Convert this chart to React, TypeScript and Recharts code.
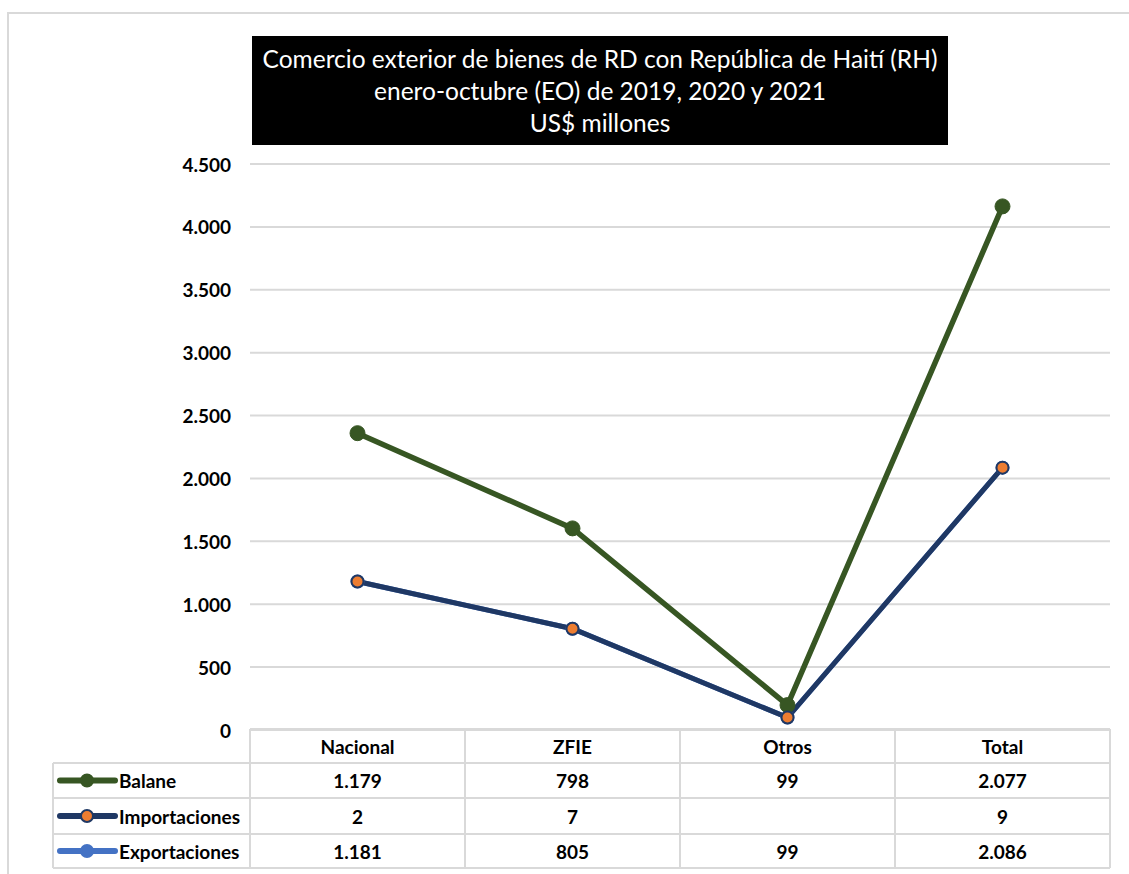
import React from 'react';
import { LineChart, Line, XAxis, YAxis, CartesianGrid } from 'recharts';

// valores del cuadro (US$ millones)
const categories = ['Nacional', 'ZFIE', 'Otros', 'Total'];
const balane = [1179, 798, 99, 2077];
const importaciones: (number | null)[] = [2, 7, null, 9];
const exportaciones = [1181, 805, 99, 2086];
const yTicks = [0, 500, 1000, 1500, 2000, 2500, 3000, 3500, 4000, 4500];

const titleLines = [
  'Comercio exterior de bienes de RD con República de Haití (RH)',
  'enero-octubre (EO) de 2019, 2020 y 2021',
  'US$ millones',
];

const GREEN = '#375623';
const NAVY = '#1F3864';
const ORANGE = '#ED7D31';
const LIGHT = '#4472C4';
const GRID = '#d9d9d9';
const FONT = 'Lato, "Open Sans", sans-serif';

const W = 1129;
const H = 874;
const M = { top: 164, right: 19, bottom: 0, left: 190 };
const Y_W = 60;
const X_H = 144;
const plotLeft = M.left + Y_W;
const plotRight = W - M.right;
const band = (plotRight - plotLeft) / categories.length;

// las líneas del gráfico están apiladas en el original
const data = categories.map((name, i) => ({
  name,
  balaneLine: balane[i] + exportaciones[i],
  importLine: balane[i] + (importaciones[i] ?? 0),
  exportLine: exportaciones[i],
}));

const rows = [
  { label: 'Balane', values: balane, line: GREEN, fill: GREEN },
  { label: 'Importaciones', values: importaciones, line: NAVY, fill: ORANGE },
  { label: 'Exportaciones', values: exportaciones, line: LIGHT, fill: LIGHT },
];

const fmt = (n: number | null) =>
  n == null ? '' : String(n).replace(/\B(?=(\d{3})+(?!\d))/g, '.');

// bordes de filas del cuadro, relativos al eje
const rowEdges = [-1, 33, 68, 104, 138];

const YTick = (props: any) => {
  const { x, y, payload } = props;
  return (
    <text x={x - 19} y={y} textAnchor="end" dominantBaseline="central"
      fontFamily={FONT} fontWeight={700} fontSize={19} fill="#000">
      {fmt(payload.value)}
    </text>
  );
};

const TableTick = (props: any) => {
  const { x, y, payload } = props;
  const idx = payload.index ?? props.index ?? 0;
  const x0 = x - band / 2;
  const x1 = x + band / 2;
  const legendLeft = 53;
  return (
    <g>
      {rowEdges.map((e, k) => (
        <line key={`h${k}`} x1={k > 0 && idx === 0 ? legendLeft : x0} x2={x1}
          y1={y + e} y2={y + e} stroke={GRID} strokeWidth={2} />
      ))}
      <line x1={x0} x2={x0} y1={y + rowEdges[0]} y2={y + rowEdges[4]} stroke={GRID} strokeWidth={2} />
      <line x1={x1} x2={x1} y1={y + rowEdges[0]} y2={y + rowEdges[4]} stroke={GRID} strokeWidth={2} />
      <text x={x} y={y + (rowEdges[0] + rowEdges[1]) / 2} textAnchor="middle" dominantBaseline="central"
        fontFamily={FONT} fontWeight={700} fontSize={19} fill="#000">
        {payload.value}
      </text>
      {rows.map((r, k) => (
        <text key={r.label} x={x} y={y + (rowEdges[k + 1] + rowEdges[k + 2]) / 2}
          textAnchor="middle" dominantBaseline="central"
          fontFamily={FONT} fontWeight={700} fontSize={19} fill="#000">
          {fmt(r.values[idx])}
        </text>
      ))}
      {idx === 0 && (
        <g>
          <line x1={legendLeft} x2={legendLeft} y1={y + rowEdges[1]} y2={y + rowEdges[4]}
            stroke={GRID} strokeWidth={2} />
          {rows.map((r, k) => {
            const cy = y + (rowEdges[k + 1] + rowEdges[k + 2]) / 2;
            return (
              <g key={r.label}>
                <line x1={60} x2={115} y1={cy} y2={cy} stroke={r.line} strokeWidth={6} strokeLinecap="round" />
                <circle cx={87} cy={cy} r={6} fill={r.fill} stroke={r.line} strokeWidth={2} />
                <text x={119} y={cy} dominantBaseline="central"
                  fontFamily={FONT} fontWeight={700} fontSize={19} fill="#000">
                  {r.label}
                </text>
              </g>
            );
          })}
        </g>
      )}
    </g>
  );
};

export default function App() {
  return (
    <div style={{
      position: 'fixed', left: 0, top: 0, width: W, height: H,
      overflow: 'hidden', background: '#fff',
    }}>
      <div style={{
        position: 'absolute', left: 7, top: 12, width: 1130, height: 880,
        borderTop: `2px solid ${GRID}`, borderLeft: `2px solid ${GRID}`, boxSizing: 'border-box',
      }} />
      <div style={{ position: 'absolute', left: 0, top: 0 }}>
        <LineChart width={W} height={H} data={data} margin={M}>
          <CartesianGrid vertical={false} stroke={GRID} strokeWidth={2} />
          <XAxis dataKey="name" height={X_H} axisLine={false} tickLine={false}
            tickSize={0} tickMargin={0} interval={0}
            padding={{ left: band / 2, right: band / 2 }} tick={<TableTick />} />
          <YAxis width={Y_W} domain={[0, 4500]} ticks={yTicks} interval={0}
            axisLine={false} tickLine={false} tickSize={0} tickMargin={0} tick={<YTick />} />
          <Line dataKey="exportLine" stroke={LIGHT} strokeWidth={5} isAnimationActive={false}
            dot={{ r: 6, fill: LIGHT, stroke: LIGHT, strokeWidth: 2 }} />
          <Line dataKey="balaneLine" stroke={GREEN} strokeWidth={5.5} isAnimationActive={false}
            dot={{ r: 7.5, fill: GREEN, stroke: GREEN, strokeWidth: 1 }} />
          <Line dataKey="importLine" stroke={NAVY} strokeWidth={5} isAnimationActive={false}
            dot={{ r: 6, fill: ORANGE, stroke: NAVY, strokeWidth: 2 }} />
        </LineChart>
      </div>
      <div style={{
        position: 'absolute', left: 252, top: 36, width: 696, height: 109,
        background: '#000', color: '#fff', fontFamily: FONT, fontSize: 24.5,
        lineHeight: '32px', textAlign: 'center', paddingTop: 7, boxSizing: 'border-box',
      }}>
        {titleLines.map((t) => <div key={t}>{t}</div>)}
      </div>
    </div>
  );
}
